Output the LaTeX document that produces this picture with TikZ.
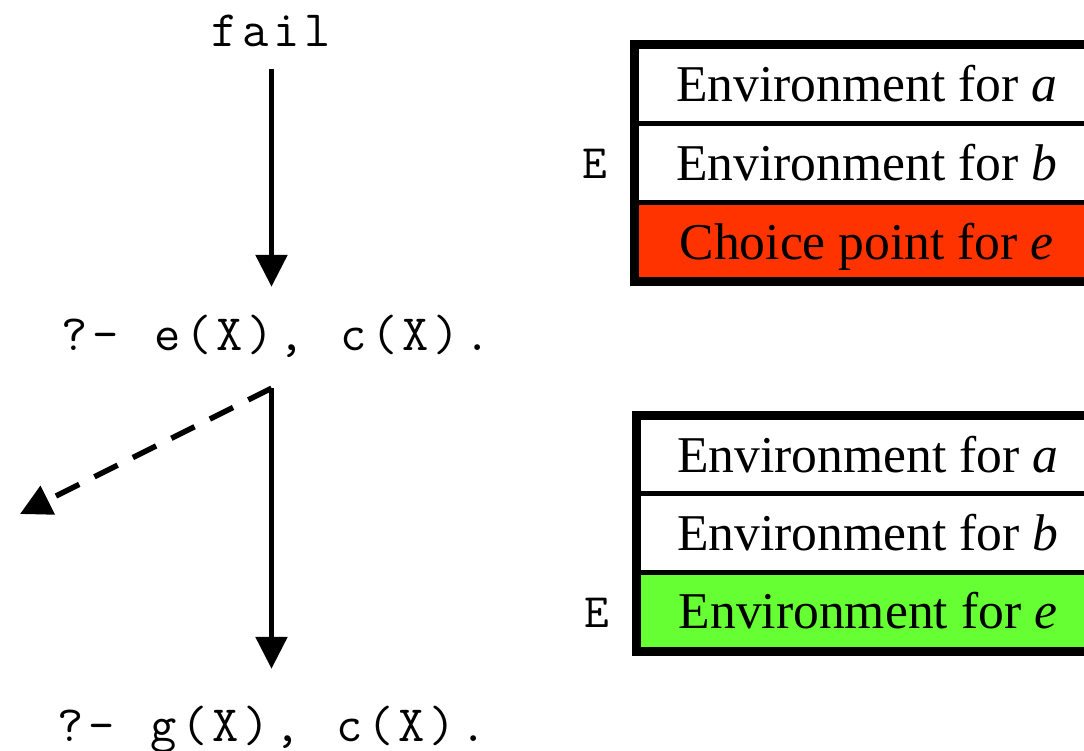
\documentclass[tikz,border=0pt]{standalone}
\usepackage{fontspec}
\setmainfont{Liberation Serif}
\usetikzlibrary{arrows.meta,calc}
\definecolor{cpred}{HTML}{FF3300}
\definecolor{envgreen}{HTML}{66FF33}
\newcommand\mch[1]{\makebox[31pt][c]{#1}}
\tikzset{
  code/.style={font=\ttfamily\fontsize{51}{60}\selectfont, inner sep=0pt, text height=40pt, text depth=12pt},
  rowtext/.style={font=\fontsize{51.6}{60}\selectfont, inner sep=0pt, anchor=base west},
  elabel/.style={font=\ttfamily\fontsize{48}{56}\selectfont, inner sep=0pt, anchor=base},
  arr/.style={line width=5.5pt, -{Triangle[length=32pt,width=31pt]}},
  darr/.style={line width=5.5pt, dash pattern=on 26pt off 17pt, -{Triangle[length=31pt,width=31pt]}},
  outer/.style={line width=9pt},
  divider/.style={line width=5pt},
}
\begin{document}
\begin{tikzpicture}[x=1pt,y=-1pt]
\useasboundingbox (0,0) rectangle (1084,750);
\clip (0,0) rectangle (1084,750);

% left: derivation
\node[code, anchor=base, text height=0pt, text depth=0pt] (fail) at (271.5,46) {\mch{f}\mch{a}\mch{i}\mch{l}};
\node[code, anchor=base west] (q1) at (59,350) {\mch{?}\mch{-}\mch{}\mch{e}\mch{(}\mch{X}\mch{)}\mch{,}\mch{}\mch{c}\mch{(}\mch{X}\mch{)}\mch{.}};
\node[code, anchor=base west] (q2) at (54.5,741) {\mch{?}\mch{-}\mch{}\mch{g}\mch{(}\mch{X}\mch{)}\mch{,}\mch{}\mch{c}\mch{(}\mch{X}\mch{)}\mch{.}};
\coordinate (fork) at ($(q1.south -| fail.south)+(0,26)$);
\coordinate (dend) at (20,514);

\draw[arr, shorten <=22pt, shorten >=23pt] (fail.south) -- (fail.south |- q1.north);
\draw[arr, shorten >=32pt] (fork) -- (fork |- q2.north);
\draw[darr] (fork) -- (dend);

% top stack
\fill[cpred] (634.5,202) rectangle (1100,281.5);
\draw[divider] (634.5,123.5) -- (1100,123.5);
\draw[divider] (634.5,202) -- (1100,202);
\draw[outer] (1100,44.5) -- (634.5,44.5) -- (634.5,281.5) -- (1100,281.5);
\node[rowtext] (ta) at (676,101.5) {Environment for \textit{a}};
\node[rowtext] (tb) at (676,180) {Environment for \textit{b}};
\node[rowtext] (te) at (679.5,259.5) {Choice point for \textit{e}};
\node[elabel] (E1) at (594.5,178) {E};

% bottom stack
\fill[envgreen] (636.5,572) rectangle (1100,651.5);
\draw[divider] (636.5,493.5) -- (1100,493.5);
\draw[divider] (636.5,572) -- (1100,572);
\draw[outer] (1100,415.5) -- (636.5,415.5) -- (636.5,651.5) -- (1100,651.5);
\node[rowtext] (ba) at (677,472) {Environment for \textit{a}};
\node[rowtext] (bb) at (677,550) {Environment for \textit{b}};
\node[rowtext] (be) at (678.5,628) {Environment for \textit{e}};
\node[elabel] (E2) at (597,627) {E};
\end{tikzpicture}
\end{document}
